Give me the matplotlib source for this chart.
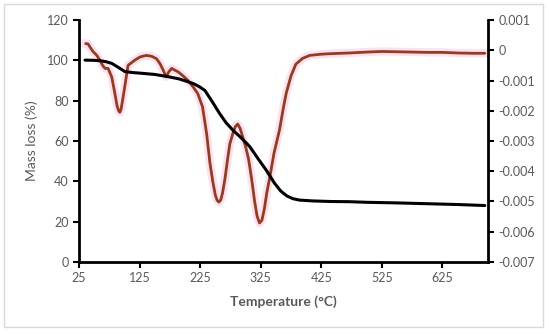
import matplotlib
matplotlib.use("Agg")
from matplotlib import pyplot as plt
from matplotlib.patches import Rectangle

# TGA curve: temperature (°C) vs mass (%)
tga_temp = [35, 50, 60, 70, 79, 90, 101, 115, 128, 150, 172, 190, 205, 215, 224, 233,
            245, 257, 268, 279, 293, 307, 320, 334, 348, 358, 368, 378, 389, 410, 440,
            471, 500, 550, 600, 650, 695]
tga_mass = [100.1, 100.0, 99.8, 99.3, 98.5, 96.5, 94.4, 93.9, 93.6, 93.0, 91.9, 90.8,
            89.4, 88.3, 86.9, 85.0, 79.5, 73.7, 69.0, 65.4, 61.5, 57.2, 51.5, 45.6,
            39.0, 35.2, 32.8, 31.4, 30.7, 30.3, 30.0, 29.9, 29.6, 29.3, 28.9, 28.5, 28.0]

# DTG curve: temperature (°C) vs derivative
dtg_temp = [36, 40, 44, 48.5, 54, 59.6, 64, 68, 73, 79, 84, 88, 90.5, 92.5, 94.5, 97,
            101, 106, 117, 126, 136, 145, 153, 159, 164, 169, 173, 178, 189, 197,
            205, 213, 221, 229, 236, 241, 246, 250, 253, 256, 259, 262, 266, 270,
            274, 279, 283, 287, 291, 295, 300, 305, 310, 315, 319, 323, 327, 331,
            335, 340, 347, 356, 362, 367, 375, 383, 394, 406, 425, 444, 471, 500,
            525, 550, 575, 600, 625, 650, 675, 695]
dtg_val = [0.00022, 0.00021, 0.00008, -0.00005, -0.00016, -0.00033, -0.00050, -0.00060,
           -0.00060, -0.00088, -0.00140, -0.00185, -0.00200, -0.00205, -0.00195, -0.00165,
           -0.00115, -0.00050, -0.00033, -0.00022, -0.00017, -0.00020, -0.00028, -0.00045,
           -0.00066, -0.00088, -0.00072, -0.00060, -0.00072, -0.00085, -0.00100, -0.00120,
           -0.00143, -0.00187, -0.00280, -0.00370, -0.00435, -0.00478, -0.00496, -0.00502,
           -0.00495, -0.00472, -0.00425, -0.00365, -0.00310, -0.00275, -0.00253, -0.00244,
           -0.00258, -0.00285, -0.00318, -0.00360, -0.00425, -0.00500, -0.00548, -0.00571,
           -0.00562, -0.00525, -0.00472, -0.00420, -0.00340, -0.00264, -0.00195, -0.00143,
           -0.00085, -0.00046, -0.00027, -0.00017, -0.00013, -0.00011, -0.00009, -0.00006,
           -0.00004, -0.00005, -0.00006, -0.00007, -0.00007, -0.00009, -0.00010, -0.00010]

x_ticks = [25, 125, 225, 325, 425, 525, 625]
left_ticks = [0, 20, 40, 60, 80, 100, 120]
right_ticks = [0.001, 0, -0.001, -0.002, -0.003, -0.004, -0.005, -0.006, -0.007]

gray = '#595959'
plt.rcParams['font.family'] = ['Lato', 'DejaVu Sans']

fig = plt.figure(figsize=(5.5, 3.34), dpi=100)
fig.patches.append(Rectangle((0.007, 0.021), 0.98, 0.967, transform=fig.transFigure,
                             fill=False, edgecolor='#d9d9d9', linewidth=1))

ax = fig.add_axes([0.1436, 0.2156, 0.7434, 0.7245])
ax2 = ax.twinx()

ax.plot(tga_temp, tga_mass, color='black', linewidth=2.2, zorder=3,
        solid_joinstyle='round', solid_capstyle='round')
ax2.plot(dtg_temp, dtg_val, color='#f7c6e8', linewidth=6, alpha=0.5,
         solid_joinstyle='round')
ax2.plot(dtg_temp, dtg_val, color='#9a3a18', linewidth=2.0,
         solid_joinstyle='round', solid_capstyle='round')

ax.set_zorder(ax2.get_zorder() + 1)
ax.patch.set_visible(False)

ax.set_xlim(25, 700)
ax.set_ylim(0, 120)
ax2.set_ylim(-0.007, 0.001)

ax.set_xticks(x_ticks)
ax.set_yticks(left_ticks)
ax2.set_yticks(right_ticks)
ax2.set_yticklabels(['0.001', '0', '-0.001', '-0.002', '-0.003', '-0.004',
                     '-0.005', '-0.006', '-0.007'])

for a in (ax, ax2):
    a.spines['top'].set_visible(False)
    for s in ('left', 'right', 'bottom'):
        a.spines[s].set_linewidth(2)
        a.spines[s].set_color('black')
    a.tick_params(colors=gray, labelsize=9, width=1.5, length=4)
    a.tick_params(axis='both', color='black')
ax.spines['right'].set_visible(False)
ax2.spines['left'].set_visible(False)
ax2.spines['bottom'].set_visible(False)

ax.set_xlabel('Temperature (°C)', fontsize=10, fontweight='bold', color=gray, labelpad=8)
ax.set_ylabel('Mass loss (%)', fontsize=10, color=gray, labelpad=6)

fig.savefig('out.png', dpi=100)
